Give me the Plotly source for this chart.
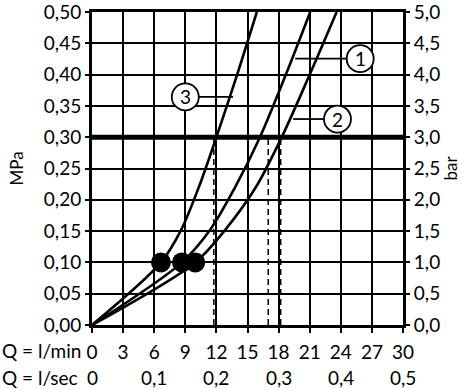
import plotly.graph_objects as go

# ---- data ----
q_ticks = [0, 3, 6, 9, 12, 15, 18, 21, 24, 27, 30]
q_labels = ["0", "3", "6", "9", "12", "15", "18", "21", "24", "27", "30"]
mpa_ticks = [0, 0.05, 0.10, 0.15, 0.20, 0.25, 0.30, 0.35, 0.40, 0.45, 0.50]
mpa_labels = ["0,00", "0,05", "0,10", "0,15", "0,20", "0,25", "0,30", "0,35", "0,40", "0,45", "0,50"]
bar_ticks = [0, 0.5, 1.0, 1.5, 2.0, 2.5, 3.0, 3.5, 4.0, 4.5, 5.0]
bar_labels = ["0,0", "0,5", "1,0", "1,5", "2,0", "2,5", "3,0", "3,5", "4,0", "4,5", "5,0"]
lsec_pos = [0, 6, 12, 18, 24, 30]
lsec_labels = ["0", "0,1", "0,2", "0,3", "0,4", "0,5"]

curve1_q = [0, 8.68, 11.4, 13.8, 16.2, 18.7, 21.05]
curve1_p = [0, 0.10, 0.152, 0.22, 0.30, 0.40, 0.50]
curve2_q = [0, 9.96, 12.85, 15.8, 18.3, 21.0, 23.6]
curve2_p = [0, 0.10, 0.152, 0.22, 0.30, 0.40, 0.50]
curve3_q = [0, 6.65, 8.6, 10.3, 12.0, 14.0, 15.9]
curve3_p = [0, 0.10, 0.152, 0.22, 0.30, 0.40, 0.50]

dots_q = [6.65, 8.68, 9.96]
dots_p = [0.10, 0.10, 0.10]

ref_pressure = 0.30
dashed_q = [11.75, 17.0, 18.2]

labels = ["1", "2", "3"]
label_x = [25.87, 23.68, 9.0]
label_y = [0.4255, 0.329, 0.3644]
leader_x0 = [19.6, 19.4, 10.3]
leader_x1 = [24.6, 22.4, 13.6]

FONT = "Lato"
FS = 19

fig = go.Figure()

for qs, ps in [(curve1_q, curve1_p), (curve2_q, curve2_p), (curve3_q, curve3_p)]:
    fig.add_trace(go.Scatter(x=qs, y=ps, mode="lines",
                             line=dict(color="black", width=2.6, shape="spline", smoothing=0.9),
                             showlegend=False, hoverinfo="skip"))

# dashed verticals
for dq in dashed_q:
    fig.add_trace(go.Scatter(x=[dq, dq], y=[0, ref_pressure], mode="lines",
                             line=dict(color="black", width=1.5, dash="6px,4px"),
                             showlegend=False, hoverinfo="skip"))

# thick reference line
fig.add_trace(go.Scatter(x=[0, 30], y=[ref_pressure, ref_pressure], mode="lines",
                         line=dict(color="black", width=5), showlegend=False, hoverinfo="skip"))

fig.add_trace(go.Scatter(x=dots_q, y=dots_p, mode="markers",
                         marker=dict(color="black", size=20), showlegend=False, hoverinfo="skip"))

# dummy for right axis
fig.add_trace(go.Scatter(x=[0], y=[0], yaxis="y2", mode="markers",
                         marker=dict(opacity=0), showlegend=False, hoverinfo="skip"))

shapes = []
for lab, lx, ly, x0, x1 in zip(labels, label_x, label_y, leader_x0, leader_x1):
    shapes.append(dict(type="line", xref="x", yref="y", x0=x0, x1=x1, y0=ly, y1=ly,
                       line=dict(color="black", width=1.8)))
    shapes.append(dict(type="circle", xref="x", yref="y", xsizemode="pixel", ysizemode="pixel",
                       xanchor=lx, yanchor=ly, x0=-13.5, x1=13.5, y0=-13.5, y1=13.5,
                       fillcolor="white", line=dict(color="black", width=1.8)))

annotations = []
for lab, lx, ly in zip(labels, label_x, label_y):
    annotations.append(dict(x=lx, y=ly, xref="x", yref="y", text=lab, showarrow=False,
                            font=dict(family=FONT, size=FS, color="black")))

plot_w = 311.0
plot_h = 313.3
annotations.append(dict(x=-91.7 / plot_w, y=-26 / plot_h, xref="paper", yref="paper",
                        text="Q = l/min", showarrow=False, xanchor="left", yanchor="middle",
                        font=dict(family=FONT, size=FS, color="black")))
annotations.append(dict(x=-91.7 / plot_w, y=-53 / plot_h, xref="paper", yref="paper",
                        text="Q = l/sec", showarrow=False, xanchor="left", yanchor="middle",
                        font=dict(family=FONT, size=FS, color="black")))
for p, t in zip(lsec_pos, lsec_labels):
    annotations.append(dict(x=p, y=-53 / plot_h, xref="x", yref="paper", text=t,
                            showarrow=False, xanchor="center", yanchor="middle",
                            font=dict(family=FONT, size=FS, color="black")))

fig.update_layout(
    width=461, height=389,
    margin=dict(l=92, r=58, t=12, b=64, pad=0, autoexpand=False),
    paper_bgcolor="white", plot_bgcolor="white",
    font=dict(family=FONT, size=FS, color="black"),
    xaxis=dict(range=[0, 30], tickvals=q_ticks, ticktext=q_labels, showgrid=True,
               gridcolor="black", gridwidth=2, zeroline=False, showline=True,
               linecolor="black", linewidth=3, ticks="outside", ticklen=5, tickwidth=2,
               tickcolor="black", mirror=True, ticklabelstandoff=3, automargin=False,
               ticklabeloverflow="allow"),
    yaxis=dict(range=[0, 0.5], tickvals=mpa_ticks, ticktext=mpa_labels, showgrid=True,
               gridcolor="black", gridwidth=2, zeroline=False, showline=True,
               linecolor="black", linewidth=3, ticks="outside", ticklen=4, tickwidth=2,
               tickcolor="black", automargin=False, ticklabeloverflow="allow",
               title=dict(text="MPa", standoff=16, font=dict(size=17))),
    yaxis2=dict(range=[0, 5], tickvals=bar_ticks, ticktext=bar_labels, overlaying="y",
                side="right", showgrid=False, zeroline=False, showline=True,
                linecolor="black", linewidth=3, ticks="outside", ticklen=4, tickwidth=2,
                tickcolor="black", automargin=False, ticklabeloverflow="allow",
                title=dict(text="bar", standoff=13, font=dict(size=17))),
    shapes=shapes,
    annotations=annotations,
)

fig.write_html("out.html", config={"displayModeBar": False},
               post_script="document.body.style.margin='0px';document.body.style.padding='0px';")
